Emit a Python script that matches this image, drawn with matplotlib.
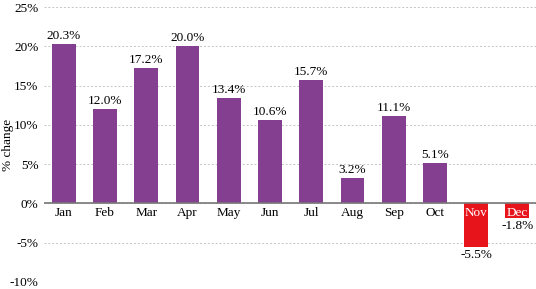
import matplotlib
matplotlib.use("Agg")
import matplotlib.pyplot as plt
import numpy as np

months = ["Jan", "Feb", "Mar", "Apr", "May", "Jun", "Jul", "Aug", "Sep", "Oct", "Nov", "Dec"]
changes = [20.3, 12.0, 17.2, 20.0, 13.4, 10.6, 15.7, 3.2, 11.1, 5.1, -5.5, -1.8]
yticks = [-10, -5, 0, 5, 10, 15, 20, 25]

plt.rcParams["font.family"] = ["Liberation Serif", "DejaVu Serif"]

fig = plt.figure(figsize=(5.36, 2.89), dpi=100)
ax = fig.add_axes([44 / 536, 7 / 289, 1 - 44 / 536, 275 / 289])

x = np.arange(len(months))
colors = ["#853f91" if v >= 0 else "#e8141b" for v in changes]
ax.bar(x, changes, width=0.58, color=colors, zorder=3)

fs = 9.5
for i, v in enumerate(changes):
    if v >= 0:
        ax.text(i, v + 0.25, "%.1f%%" % v, ha="center", va="bottom", fontsize=fs)
        ax.text(i, -0.4, months[i], ha="center", va="top", fontsize=fs)
    else:
        ax.text(i, v - 0.25, "%.1f%%" % v, ha="center", va="top", fontsize=fs)
        ax.text(i, -0.4, months[i], ha="center", va="top", fontsize=fs,
                color="white", zorder=4)

ax.set_xlim(-0.48, 11.45)
ax.set_ylim(-10, 25)
ax.set_yticks(yticks)
ax.set_yticklabels(["%d%%" % t for t in yticks], fontsize=fs)
ax.set_xticks([])
ax.tick_params(axis="y", length=0, pad=4)
for s in ax.spines.values():
    s.set_visible(False)
ax.yaxis.grid(True, linestyle=(0, (2, 2)), color="#c4c4c4", linewidth=0.7, zorder=0)
ax.axhline(0, color="#777777", linewidth=1.2, zorder=4)
fig.text(8 / 536, 0.5, "% change", rotation=90, ha="center", va="center", fontsize=fs)

fig.savefig("out.png", dpi=100)
